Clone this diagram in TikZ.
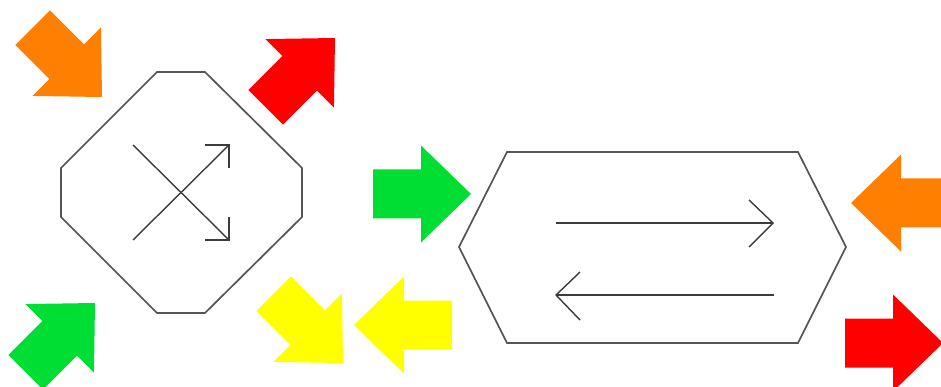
\documentclass[tikz,border=0pt]{standalone}
\definecolor{arOrange}{RGB}{255,128,0}
\definecolor{arRed}{RGB}{255,0,0}
\definecolor{arGreen}{RGB}{0,222,52}
\definecolor{arYellow}{RGB}{255,255,0}
\definecolor{frameGray}{RGB}{85,85,85}
\definecolor{innerGray}{RGB}{60,60,60}
\tikzset{
  bigarrow/.pic={\fill[#1] (0,0) -- (-50,48.5) -- (-50,24.5) -- (-98,24.5) -- (-98,-24.5) -- (-50,-24.5) -- (-50,-48.5) -- cycle;},
  framebox/.style={draw=frameGray, line width=1.7pt, line join=miter},
  innerline/.style={draw=innerGray, line width=1.4pt},
}
\begin{document}
\begin{tikzpicture}[x=1pt,y=-1pt]
\clip (0,0) rectangle (941,387);
\fill[white] (0,0) rectangle (941,387);
% coloured arrows
\pic[rotate=-45] at (102,97) {bigarrow=arOrange};
\pic[rotate=45] at (335,38) {bigarrow=arRed};
\pic[rotate=45] at (95,303) {bigarrow=arGreen};
\pic[rotate=-45] at (343,363) {bigarrow=arYellow};
\pic at (471,194) {bigarrow=arGreen};
\pic[rotate=180] at (354,325) {bigarrow=arYellow};
\pic[rotate=180] at (851,203) {bigarrow=arOrange};
\pic at (943,343) {bigarrow=arRed};
% octagon
\draw[framebox] (157,72) -- (205,72) -- (302,168) -- (302,217) -- (205,313) -- (157,313) -- (61,217) -- (61,168) -- cycle;
\draw[innerline] (133,145) -- (229,240);
\draw[innerline] (205,240) -- (229,240) -- (229,217);
\draw[innerline] (133,240) -- (229,145);
\draw[innerline] (205,145) -- (229,145) -- (229,168);
% hexagon
\draw[framebox] (507,152) -- (798,152) -- (846,247) -- (798,343) -- (507,343) -- (459,247) -- cycle;
\draw[innerline] (556,223) -- (773,223);
\draw[innerline] (749,200) -- (773,223) -- (749,247);
\draw[innerline] (774,295) -- (556,295);
\draw[innerline] (580,272) -- (556,295) -- (580,320);
\end{tikzpicture}
\end{document}
